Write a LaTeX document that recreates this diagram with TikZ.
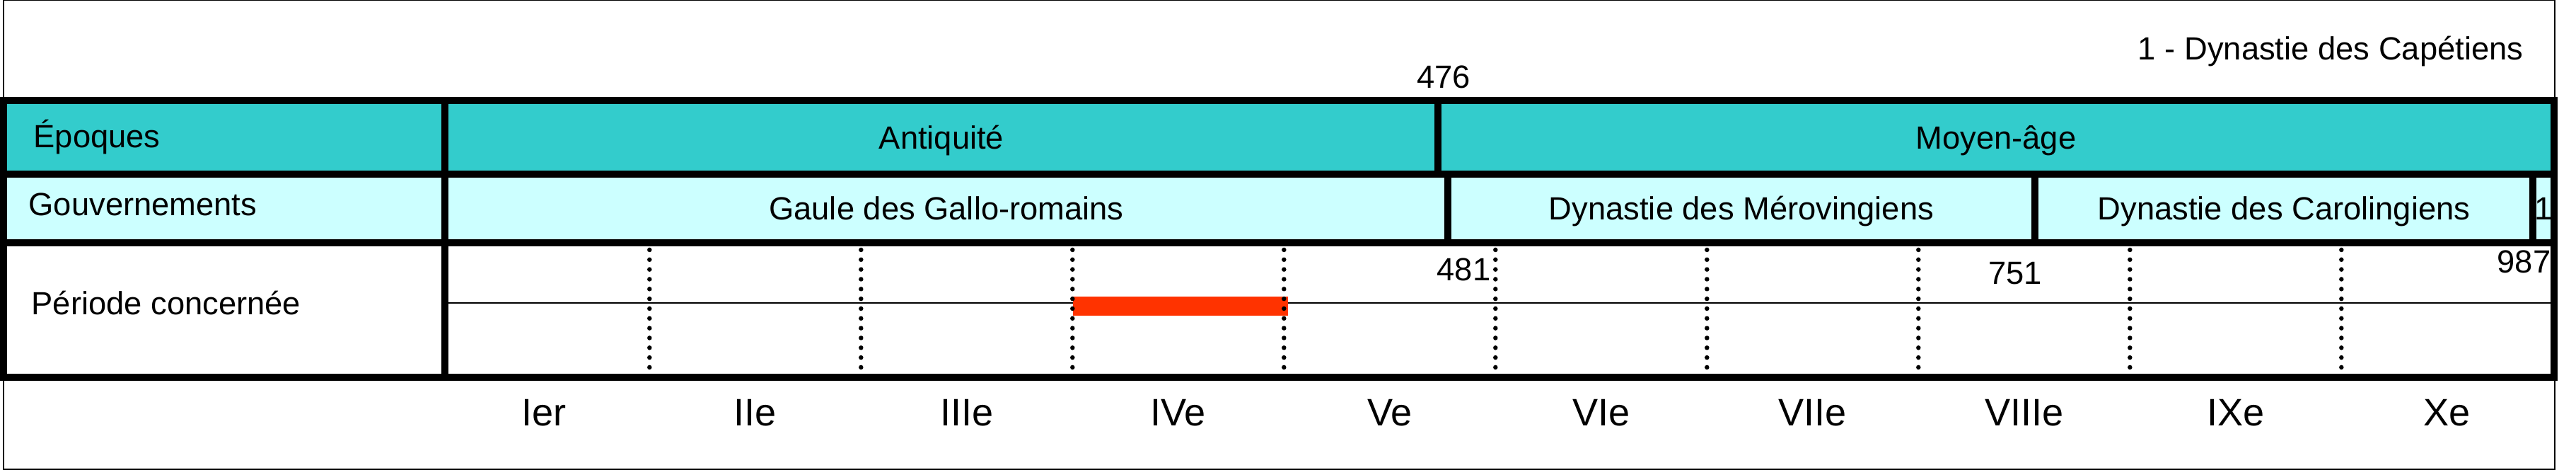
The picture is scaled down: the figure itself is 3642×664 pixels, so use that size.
\documentclass[tikz,border=0pt]{standalone}
\usepackage{fontspec}
\setmainfont{Liberation Sans}
\definecolor{epoquecol}{RGB}{51,204,204}
\definecolor{gouvcol}{RGB}{204,255,255}
\definecolor{barcol}{RGB}{255,51,0}

\begin{document}
\begin{tikzpicture}[
  x=0.1mm, y=-0.1mm,
  every node/.style={font=\fontsize{12.9}{15}\selectfont, inner sep=0pt},
  cell/.style={draw=black, line width=0.94mm, rectangle, text height=3.26mm, text depth=0pt, inner sep=0pt},
  rowlabel/.style={anchor=base west},
  annee/.style={anchor=base},
  siecle/.style={anchor=base, font=\fontsize{15.4}{18}\selectfont},
  pointille/.style={line width=0.65mm, line cap=round, dash pattern=on 0pt off 1.383mm},
  midline/.style={line width=0.27mm}
]

\useasboundingbox (0,0) rectangle (3642,664);
\draw[line width=0.13mm] (5,0.7) rectangle (3612,663);

% ---------------- title ----------------
\node[anchor=base east] (titre) at (3568,85) {1 - Dynastie des Capétiens};
\node[annee] (an476) at (2041,125) {476};

% ---------------- row 1: epoques ----------------
\node[cell, fill=epoquecol, minimum width=62.4mm, minimum height=10.4mm] (epoques) at (317,194) {};
\node[cell, fill=epoquecol, minimum width=140.4mm, minimum height=10.4mm] (antiquite) at (1331,194) {Antiquité};
\node[cell, fill=epoquecol, minimum width=157.8mm, minimum height=10.4mm] (moyenage) at (2822,194) {Moyen-âge};

% ---------------- row 2: gouvernements ----------------
\node[cell, fill=gouvcol, minimum width=62.4mm, minimum height=9.7mm] (gouv) at (317,294.5) {};
\node[cell, fill=gouvcol, minimum width=141.8mm, minimum height=9.7mm] (gaule) at (1338,294.5) {Gaule des Gallo-romains};
\node[cell, fill=gouvcol, minimum width=83mm, minimum height=9.7mm] (merov) at (2462,294.5) {Dynastie des Mérovingiens};
\node[cell, fill=gouvcol, minimum width=70.4mm, minimum height=9.7mm] (caroling) at (3229,294.5) {Dynastie des Carolingiens};
\node[cell, fill=gouvcol, minimum width=3mm, minimum height=9.7mm] (capet) at (3596,294.5) {1};

% ---------------- row 3: periode ----------------
\node[cell, fill=white, minimum width=62.4mm, minimum height=19mm] (periode) at (317,438) {};
\node[cell, fill=white, minimum width=298.2mm, minimum height=19mm] (frise) at (2120,438) {};

\node[rowlabel] (l-epoques) at (47,209) {Époques};
\node[rowlabel] (l-gouv) at (40,305) {Gouvernements};
\node[rowlabel] (l-periode) at (44,445) {Période concernée};

% timeline
\draw[midline] (629,428) -- (3611,428);
\fill[barcol] (1517,419) rectangle (1821,446);
\foreach \k in {1,...,9}
  \draw[pointille] ({619.3+299*\k},353) -- ({619.3+299*\k},519);

\node[anchor=base east] (an481) at (2108,397) {481};
\node[annee] (an751) at (2849,402) {751};
\node[anchor=base east] (an987) at (3607,386) {987};

% ---------------- centuries ----------------
\foreach \s [count=\i] in {Ier,IIe,IIIe,IVe,Ve,VIe,VIIe,VIIIe,IXe,Xe}
  \node[siecle] (s\i) at ({619.3+299*(\i-0.5)},602) {\s};

\end{tikzpicture}
\end{document}
